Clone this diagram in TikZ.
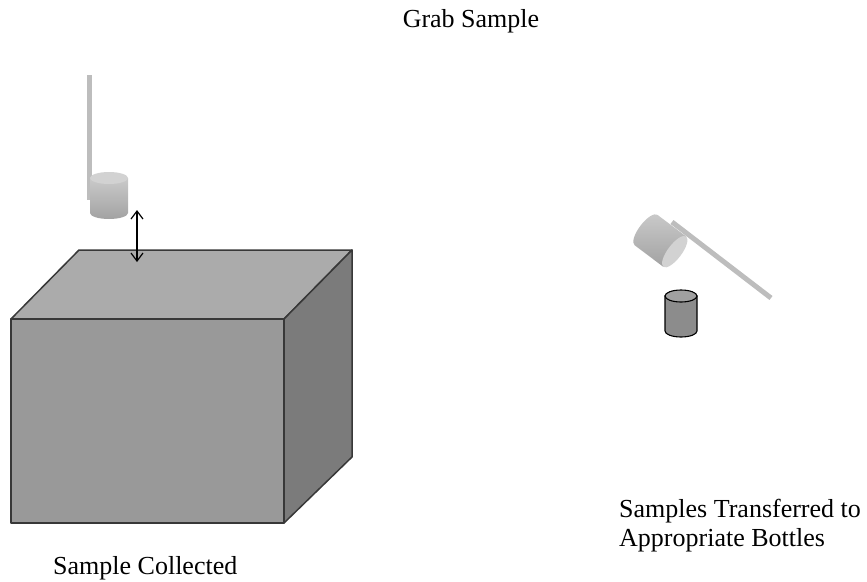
\documentclass[tikz,border=0pt]{standalone}
\usepackage{fontspec}
\setmainfont{Liberation Serif}
\usetikzlibrary{arrows.meta}

\definecolor{tankfront}{HTML}{999999}
\definecolor{tanktop}{HTML}{ABABAB}
\definecolor{tankside}{HTML}{7B7B7B}
\definecolor{tankline}{HTML}{383838}
\definecolor{cuplight}{HTML}{CACACA}
\definecolor{cupdark}{HTML}{A2A2A2}
\definecolor{cupface}{HTML}{D2D2D2}
\definecolor{pole}{HTML}{BDBDBD}
\definecolor{bottlebody}{HTML}{8C8C8C}
\definecolor{bottlecap}{HTML}{A0A0A0}

\begin{document}
\begin{tikzpicture}[x=1pt,y=-1pt,
  caption/.style={font=\fontsize{26}{29}\selectfont, inner sep=0pt},
  tank/.style={draw=tankline, line width=1.5, line join=round},
  twohead/.style={{Straight Barb[length=8pt,width=12pt]}-{Straight Barb[length=8pt,width=12pt]}, line width=1.2}]
\useasboundingbox (0,0) rectangle (867,581);

\node[caption, anchor=base] (grab) at (471,27) {Grab Sample};

% the tank
\filldraw[tank, fill=tanktop] (11,319) -- (79,250) -- (352,250) -- (284,319) -- cycle;
\filldraw[tank, fill=tankside] (284,319) -- (352,250) -- (352,457) -- (284,523) -- cycle;
\filldraw[tank, fill=tankfront] (11,319) rectangle (284,523);

% dipper over the tank
\fill[pole] (87,75) rectangle (92,200);
\shade[top color=cuplight, bottom color=cupdark] (90,178) -- (90,213)
  arc[start angle=180, end angle=0, x radius=19, y radius=6] -- (128,178) -- cycle;
\fill[cupface] (109,178) ellipse [x radius=19, y radius=6];

\coordinate (cupbase) at (137,210);
\coordinate (surface) at (137,262);
\draw[twohead] (cupbase) -- (surface);

% dipper tipped over the bottle
\draw[pole, line width=5] (672,222) -- (771,298);
\begin{scope}[shift={(646,230)}, rotate=-37]
  \shade[top color=cuplight, bottom color=cupdark] (0,-19) -- (36,-19) -- (36,19) -- (0,19)
    arc[start angle=90, end angle=270, x radius=7, y radius=19] -- cycle;
  \fill[cupface] (36,0) ellipse [x radius=7, y radius=19];
\end{scope}

% bottle
\filldraw[fill=bottlebody, line width=1.1] (665,296) -- (665,331)
  arc[start angle=180, end angle=0, x radius=16, y radius=6] -- (697,296) -- cycle;
\filldraw[fill=bottlecap, line width=1.1] (681,296) ellipse [x radius=16, y radius=6];

\node[caption, anchor=base west] (collected) at (53,574) {Sample Collected};
\node[caption, anchor=base west, align=left] (transfer) at (619,546)
  {Samples Transferred to\\Appropriate Bottles};
\end{tikzpicture}
\end{document}
